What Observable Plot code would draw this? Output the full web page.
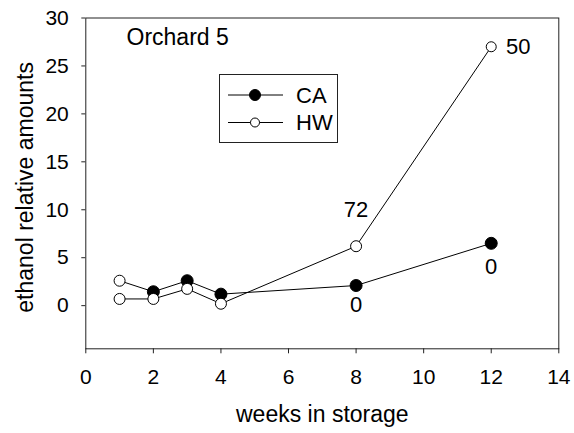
<!DOCTYPE html>
<html><head><meta charset="utf-8">
<script src="https://cdn.jsdelivr.net/npm/d3@7"></script>
<script src="https://cdn.jsdelivr.net/npm/@observablehq/plot@0.6"></script>
<style>
body{margin:0;background:#fff}
#wrap{position:relative;width:574px;height:433px;font-family:"Liberation Sans",Arial,sans-serif}
#wrap svg{display:block}
#legend{position:absolute;left:0;top:0;pointer-events:none}
</style>
</head><body><div id="wrap"></div>
<script>
const weeks = [1, 2, 3, 4, 8, 12];
const caValues = [2.6, 1.45, 2.6, 1.2, 2.1, 6.5];
const hwValues = [0.7, 0.7, 1.75, 0.2, 6.2, 27.0];
const xTicks = [0, 2, 4, 6, 8, 10, 12, 14];
const yTicks = [0, 5, 10, 15, 20, 25, 30];
const seriesNames = ["CA", "HW"];
const panelTitle = "Orchard 5";
const xTitle = "weeks in storage";
const yTitle = "ethanol relative amounts";
const hwNoteText = ["72", "50"];
const caNoteText = ["0", "0"];

const ca = weeks.map((w, i) => ({week: w, value: caValues[i]}));
const hw = weeks.map((w, i) => ({week: w, value: hwValues[i]}));
const hwNotes = [{...hw[4], text: hwNoteText[0]}, {...hw[5], text: hwNoteText[1]}];
const caNotes = [{...ca[4], text: caNoteText[0]}, {...ca[5], text: caNoteText[1]}];

const font = '"Liberation Sans", Arial, sans-serif';
const chart = Plot.plot({
  width: 574, height: 433,
  marginLeft: 85.3, marginRight: 15.7, marginTop: 17.5, marginBottom: 84.7,
  style: {fontFamily: font, fontSize: "21px", color: "#000", background: "#fff", overflow: "visible"},
  x: {domain: [0, 14]},
  y: {domain: [-4.5, 30]},
  marks: [
    Plot.frame({stroke: "#222", strokeWidth: 1}),
    Plot.axisX({ticks: xTicks, tickSize: 5, tickPadding: 15, label: null, fontSize: 21, stroke: "#222"}),
    Plot.axisY({ticks: yTicks, tickSize: 4, tickPadding: 13, label: null, fontSize: 21, stroke: "#222"}),
    Plot.text([xTitle], {frameAnchor: "bottom", dy: 66, fontSize: 23, lineAnchor: "middle"}),
    Plot.text([yTitle], {frameAnchor: "left", dx: -60.3, dy: 4, rotate: -90, fontSize: 23, textAnchor: "middle", lineAnchor: "middle"}),
    Plot.text([panelTitle], {frameAnchor: "top-left", dx: 40.7, dy: 19.5, fontSize: 23, textAnchor: "start", lineAnchor: "middle"}),
    Plot.line(ca, {x: "week", y: "value", stroke: "#000", strokeWidth: 1}),
    Plot.line(hw, {x: "week", y: "value", stroke: "#000", strokeWidth: 1}),
    Plot.dot(ca.slice(1), {x: "week", y: "value", r: 6, fill: "#000", stroke: "#000", strokeWidth: 1}),
    Plot.dot(ca.slice(0, 1), {x: "week", y: "value", r: 5.5, fill: "#fff", stroke: "#000", strokeWidth: 1}),
    Plot.dot(hw.slice(0, 5), {x: "week", y: "value", r: 5.5, fill: "#fff", stroke: "#000", strokeWidth: 1}),
    Plot.dot(hw.slice(5), {x: "week", y: "value", r: 5, fill: "#fff", stroke: "#000", strokeWidth: 1}),
    Plot.text(hwNotes.slice(0, 1), {x: "week", y: "value", text: "text", dy: -36, fontSize: 22, lineAnchor: "middle"}),
    Plot.text(hwNotes.slice(1), {x: "week", y: "value", text: "text", dx: 27, fontSize: 22, lineAnchor: "middle"}),
    Plot.text(caNotes.slice(0, 1), {x: "week", y: "value", text: "text", dy: 19, fontSize: 22, lineAnchor: "middle"}),
    Plot.text(caNotes.slice(1), {x: "week", y: "value", text: "text", dy: 24, fontSize: 22, lineAnchor: "middle"})
  ]
});
const wrap = document.getElementById("wrap");
wrap.appendChild(chart);

// legend overlay
const leg = d3.select(wrap).append("svg").attr("id", "legend").attr("width", 574).attr("height", 433);
leg.append("rect").attr("x", 219.5).attr("y", 74.5).attr("width", 118).attr("height", 68)
  .attr("fill", "#fff").attr("stroke", "#222").attr("stroke-width", 1);
const rows = [{name: seriesNames[0], y: 95, fill: "#000", r: 5.5}, {name: seriesNames[1], y: 122.5, fill: "#fff", r: 4.5}];
rows.forEach(d => {
  leg.append("line").attr("x1", 228).attr("x2", 283).attr("y1", d.y).attr("y2", d.y).attr("stroke", "#000");
  leg.append("circle").attr("cx", 255).attr("cy", d.y).attr("r", d.r).attr("fill", d.fill).attr("stroke", "#000");
  leg.append("text").attr("x", 296).attr("y", d.y).attr("dy", "0.36em").attr("font-size", 22)
    .attr("font-family", font).attr("fill", "#000").text(d.name);
});
</script>
</body></html>
